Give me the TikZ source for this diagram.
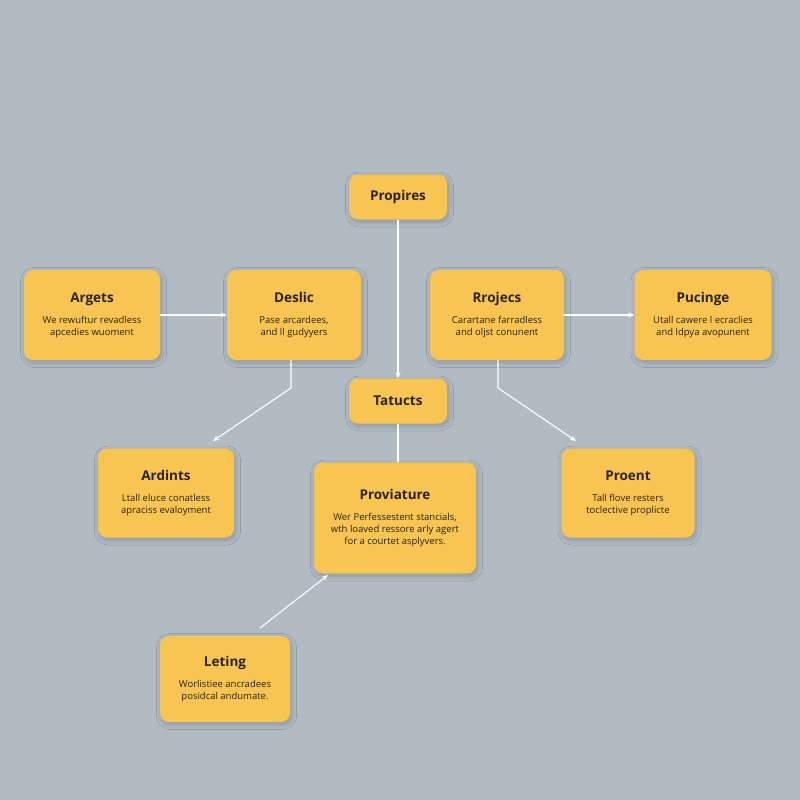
\documentclass[tikz,border=0pt]{standalone}
\usepackage{fontspec}
\setmainfont{Open Sans}
\usetikzlibrary{shadows.blur,arrows.meta}
\definecolor{bg}{HTML}{B1BBC4}
\definecolor{box}{HTML}{F9C552}
\definecolor{ink}{HTML}{2A2418}
\tikzset{
 card/.style={fill=box,rounded corners=9pt,blur shadow={shadow xshift=1.5pt,shadow yshift=-2.5pt,shadow blur steps=8,shadow blur radius=5pt,shadow opacity=20},text=ink,align=center,inner sep=0pt},
 conn/.style={draw=white,line width=1.1pt,-{Stealth[length=6pt,width=5pt]}},
 plain/.style={draw=white,line width=1.1pt},
 ttl/.style={font=\fontsize{13.5}{16}\selectfont\bfseries}
}
\newcommand{\tsz}{\fontsize{13.5}{16}\selectfont\bfseries}
\newcommand{\bsz}{\fontsize{9.5}{17}\selectfont\mdseries}
\begin{document}
\begin{tikzpicture}[x=1pt,y=-1pt]
\fill[bg] (0,0) rectangle (800,800);
\useasboundingbox (0,0) rectangle (800,800);
\node[card,minimum width=98,minimum height=45,ttl] (prop) at (398,197) {Propires};
\node[card,minimum width=136,minimum height=90] (arg) at (92,315) {\tsz Argets\\[9pt]\bsz We rewuftur revadless\\\bsz apcedies wuoment};
\node[card,minimum width=134,minimum height=90] (des) at (294,315) {\tsz Deslic\\[9pt]\bsz Pase arcardees,\\\bsz and ll gudyyers};
\node[card,minimum width=134,minimum height=90] (roj) at (497,315) {\tsz Rrojecs\\[9pt]\bsz Carartane farradless\\\bsz and oljst conunent};
\node[card,minimum width=137,minimum height=90] (puc) at (703,315) {\tsz Pucinge\\[9pt]\bsz Utall cawere l ecraclies\\\bsz and ldpya avopunent};
\node[card,minimum width=98,minimum height=45,ttl] (tat) at (398,401) {Tatucts};
\node[card,minimum width=136,minimum height=89] (ard) at (166,493) {\tsz Ardints\\[9pt]\bsz Ltall eluce conatless\\\bsz apraciss evaloyment};
\node[card,minimum width=162,minimum height=111] (prv) at (395,518) {\tsz Proviature\\[9pt]\bsz Wer Perfessestent stancials,\\\bsz wth loaved ressore arly agert\\\bsz for a courtet asplyvers.};
\node[card,minimum width=133,minimum height=89] (pro) at (628,493) {\tsz Proent\\[9pt]\bsz Tall flove resters\\\bsz toclective proplicte};
\node[card,minimum width=130,minimum height=86] (let) at (225,679) {\tsz Leting\\[9pt]\bsz Worlistiee ancradees\\\bsz posidcal andumate.};
\coordinate (c1) at (213,441);
\coordinate (c2) at (576,441);
\coordinate (l0) at (260,628);
\coordinate (l1) at (328,575);
\draw[conn] (arg.east) -- (des.west);
\draw[conn] (roj.east) -- (puc.west);
\draw[conn] (prop.south) -- (tat.north);
\draw[plain] (tat.south) -- (tat.south |- prv.north);
\draw[conn] (291,360) -- (291,388) -- (c1);
\draw[conn] (498,360) -- (498,388) -- (c2);
\draw[conn] (l0) -- (l1);
\end{tikzpicture}
\end{document}
